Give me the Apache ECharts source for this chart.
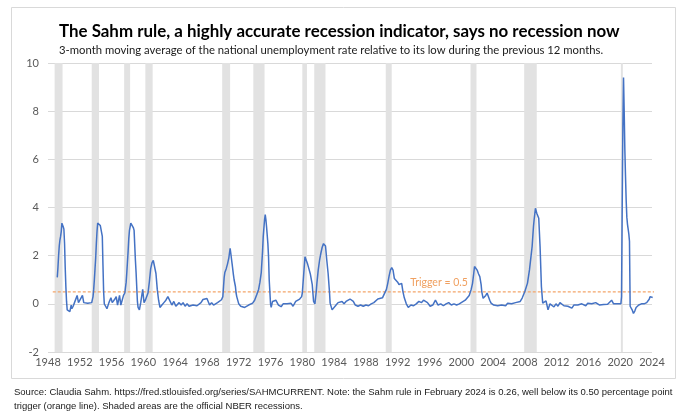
<!DOCTYPE html>
<html>
<head>
<meta charset="utf-8">
<script src="https://cdn.jsdelivr.net/npm/echarts@6/dist/echarts.min.js"></script>
<style>
  html, body { margin: 0; padding: 0; background: #ffffff; }
  #chart { width: 680px; height: 416px; }
</style>
</head>
<body>
<div id="chart"></div>
<script>
// ---- Data ----
const titleText = 'The Sahm rule, a highly accurate recession indicator, says no recession now';
const subtitleText = '3-month moving average of the national unemployment rate relative to its low during the previous 12 months.';
const footerText = 'Source: Claudia Sahm. https://fred.stlouisfed.org/series/SAHMCURRENT. Note: the Sahm rule in February 2024 is 0.26, well below its 0.50 percentage point\ntrigger (orange line). Shaded areas are the official NBER recessions.';

const yearTicks = { min: 1948, max: 2024, step: 4 };
const valueTicks = { min: -2, max: 10, step: 2 };
const triggerValue = 0.5;
const triggerSpan = [1948.6, 2025.0];
const triggerLabel = 'Trigger = 0.5';
const triggerLabelAt = [1997.2, 0.87];

// NBER recessions [start month, end month]
const recessions = [
  ['1948-11','1949-10'],['1953-07','1954-05'],['1957-08','1958-04'],['1960-04','1961-02'],
  ['1969-12','1970-11'],['1973-11','1975-03'],['1980-01','1980-07'],['1981-07','1982-11'],
  ['1990-07','1991-03'],['2001-03','2001-11'],['2007-12','2009-06'],['2020-02','2020-04']
];

// Sahm rule values [month, value]
const sahm1950s = [
  ['1949-03',1.1],['1949-04',1.5],['1949-05',2.0],['1949-06',2.4],['1949-07',2.65],['1949-08',2.8],['1949-09',3.0],
  ['1949-10',3.35],['1949-11',3.3],['1949-12',3.2],['1950-01',3.1],['1950-02',2.5],['1950-03',1.5],['1950-04',0.7],
  ['1950-05',0.1],['1950-06',-0.25],['1950-07',-0.28],['1950-09',-0.3],['1950-10',-0.32],['1950-12',-0.05],['1951-01',-0.2],
  ['1951-03',-0.1],['1951-05',0.05],['1951-07',0.1],['1951-09',0.35],['1951-11',0.05],['1952-01',0.1],['1952-03',0.25],
  ['1952-05',0.35],['1952-07',0.05],['1952-10',0.0],['1953-01',0.02],['1953-04',0.0],['1953-07',0.05],['1953-09',0.3],
  ['1953-10',0.6],['1953-11',1.0],['1953-12',1.45],['1954-01',1.9],['1954-02',2.5],['1954-03',3.0],['1954-04',3.35],
  ['1954-06',3.3],['1954-08',3.25],['1954-10',3.2],['1954-11',2.8],['1954-12',1.6],['1955-01',0.5],['1955-02',0.0],
  ['1955-04',-0.1],['1955-06',-0.2],['1955-09',0.05],['1955-12',0.25],['1956-02',0.05],['1956-04',0.0],['1956-06',0.2],
  ['1956-08',0.3],['1956-10',-0.05],['1957-01',0.35],['1957-03',-0.05],['1957-07',0.35],['1957-09',0.45],['1957-11',0.9],
  ['1957-12',1.3],['1958-01',1.75],['1958-02',2.2],['1958-03',2.72],['1958-04',3.05],['1958-06',3.35],['1958-08',3.3],
  ['1958-10',3.15],['1958-11',3.05],['1959-01',1.8],['1959-02',1.3],['1959-04',0.1],['1959-05',-0.15],['1959-07',-0.25],
  ['1959-09',0.05],['1959-12',0.6]
];
const sahm1960s = [
  ['1960-02',0.05],['1960-04',0.15],['1960-06',0.2],['1960-08',0.45],['1960-10',0.9],['1960-12',1.45],['1961-02',1.7],
  ['1961-04',1.8],['1961-06',1.76],['1961-08',1.26],['1961-10',0.6],['1961-12',0.15],['1962-02',-0.15],['1962-05',-0.05],
  ['1962-08',0.05],['1962-11',0.15],['1963-02',0.3],['1963-05',0.25],['1963-08',-0.05],['1963-11',0.1],['1964-02',-0.1],
  ['1964-04',-0.15],['1964-07',0.05],['1964-10',-0.05],['1965-01',0.05],['1965-04',-0.1],['1965-07',0.0],['1965-10',-0.1],
  ['1966-01',-0.12],['1966-04',-0.05],['1966-07',-0.1],['1966-10',-0.08],['1967-01',0.0],['1967-04',0.05],['1967-07',0.18],
  ['1967-10',0.2],['1968-01',0.22],['1968-03',0.2],['1968-05',-0.05],['1968-08',0.05],['1968-11',-0.05],['1969-02',0.0],
  ['1969-05',0.05],['1969-08',0.1],['1969-11',0.17]
];
const sahm1970s = [
  ['1970-01',0.3],['1970-02',0.7],['1970-03',1.1],['1970-04',1.3],['1970-06',1.45],['1970-08',1.65],['1970-10',1.9],
  ['1970-12',2.3],['1971-01',2.1],['1971-03',1.66],['1971-05',1.2],['1971-06',1.0],['1971-08',0.72],['1971-09',0.45],
  ['1971-10',0.3],['1972-01',0.0],['1972-04',-0.1],['1972-07',-0.05],['1972-10',-0.15],['1973-01',-0.18],['1973-04',-0.05],
  ['1973-07',0.0],['1973-10',0.03],['1974-01',0.15],['1974-04',0.37],['1974-07',0.6],['1974-09',0.9],['1974-11',1.3],
  ['1975-01',2.2],['1975-02',2.8],['1975-04',3.5],['1975-05',3.7],['1975-06',3.5],['1975-07',3.2],['1975-09',2.5],
  ['1975-10',1.95],['1975-11',1.0],['1976-01',0.0],['1976-02',-0.15],['1976-04',0.1],['1976-07',0.18],['1976-09',0.15],
  ['1977-01',-0.05],['1977-05',-0.12],['1977-08',0.0],['1977-11',-0.08],['1978-02',0.0],['1978-05',-0.05],['1978-08',0.02],
  ['1978-11',-0.1],['1979-03',0.1],['1979-06',0.05],['1979-09',0.2],['1979-12',0.3]
];
const sahm1980s = [
  ['1980-01',0.45],['1980-03',1.2],['1980-05',1.95],['1980-06',1.9],['1980-09',1.65],['1980-11',1.45],['1981-01',1.25],
  ['1981-04',0.8],['1981-06',0.1],['1981-08',0.0],['1981-10',0.5],['1981-11',0.85],['1982-01',1.4],['1982-03',1.8],
  ['1982-05',2.1],['1982-07',2.35],['1982-09',2.5],['1982-11',2.55],['1982-12',2.4],['1983-02',1.8],['1983-04',1.25],
  ['1983-06',0.5],['1983-07',0.03],['1983-10',-0.25],['1984-01',-0.2],['1984-04',-0.05],['1984-07',0.05],['1984-10',0.0],
  ['1985-01',0.1],['1985-04',0.0],['1985-07',0.1],['1985-10',0.05],['1986-01',0.2],['1986-03',0.28],['1986-06',0.1],
  ['1986-09',-0.05],['1987-01',-0.1],['1987-05',-0.05],['1987-09',-0.1],['1988-01',-0.05],['1988-05',-0.08],['1988-09',0.0],
  ['1989-01',0.05],['1989-04',0.0],['1989-07',0.2],['1989-10',0.15]
];
const sahm1990s = [
  ['1990-02',0.25],['1990-05',0.3],['1990-08',0.6],['1990-10',0.85],['1990-12',1.15],['1991-02',1.4],['1991-04',1.5],
  ['1991-06',1.4],['1991-08',1.05],['1991-10',1.0],['1992-01',0.9],['1992-03',0.8],['1992-05',0.75],['1992-07',0.85],
  ['1992-09',0.5],['1992-11',0.25],['1993-02',0.0],['1993-05',-0.15],['1993-09',-0.05],['1994-01',-0.08],['1994-05',0.0],
  ['1994-09',0.1],['1995-01',0.05],['1995-04',0.15],['1995-07',0.2],['1995-10',0.05],['1996-02',-0.1],['1996-06',-0.05],
  ['1996-10',0.15],['1997-02',-0.05],['1997-06',0.0],['1997-10',-0.08],['1998-02',0.0],['1998-06',0.05],['1998-10',-0.05],
  ['1999-02',0.0],['1999-06',-0.05],['1999-10',0.0]
];
const sahm2000s = [
  ['2000-01',0.03],['2000-07',0.15],['2001-01',0.35],['2001-04',0.6],['2001-06',0.85],['2001-08',1.3],['2001-09',1.55],
  ['2001-11',1.62],['2002-01',1.4],['2002-03',1.25],['2002-05',1.13],['2002-07',0.8],['2002-08',0.5],['2002-10',0.23],
  ['2002-12',0.17],['2003-02',0.35],['2003-04',0.45],['2003-06',0.38],['2003-08',0.15],['2003-10',0.03],['2004-02',-0.05],
  ['2004-05',0.0],['2004-08',-0.08],['2004-11',-0.03],['2005-02',-0.05],['2005-05',0.0],['2005-08',-0.08],['2005-11',0.02],
  ['2006-02',-0.05],['2006-05',0.0],['2006-08',-0.05],['2006-11',0.05],['2007-02',0.02],['2007-06',0.1],['2007-09',0.24],
  ['2008-01',0.51],['2008-05',0.86],['2008-08',1.41],['2008-10',1.9],['2008-12',2.38],['2009-02',3.2],['2009-03',3.49],
  ['2009-05',3.97],['2009-07',3.76],['2009-10',3.55],['2009-12',2.38]
];
const sahm2010s = [
  ['2010-02',0.72],['2010-04',0.03],['2010-06',0.0],['2010-09',0.12],['2010-12',-0.25],['2011-03',0.0],['2011-06',-0.05],
  ['2011-09',-0.13],['2011-12',0.0],['2012-03',-0.1],['2012-06',0.05],['2012-09',0.1],['2012-12',-0.08],['2013-03',-0.02],
  ['2013-06',-0.1],['2013-09',-0.05],['2013-12',-0.18],['2014-03',-0.05],['2014-06',-0.12],['2014-09',-0.05],['2014-12',-0.1],
  ['2015-03',0.0],['2015-06',0.03],['2015-09',-0.08],['2015-12',0.02],['2016-03',0.1],['2016-06',0.0],['2016-09',-0.08],
  ['2016-12',0.05],['2017-03',0.0],['2017-06',-0.05],['2017-09',0.02],['2017-12',-0.03],['2018-03',0.0],['2018-06',-0.02],
  ['2018-09',0.05],['2018-12',0.15],['2019-03',0.0],['2019-06',0.02],['2019-09',0.0],['2019-12',0.05]
];
const sahm2020s = [
  ['2020-02',0.0],['2020-03',0.3],['2020-04',4.0],['2020-05',7.3],['2020-06',9.4],['2020-07',8.0],['2020-08',6.4],
  ['2020-09',5.3],['2020-10',4.3],['2020-11',3.6],['2020-12',3.3],['2021-01',3.1],['2021-02',2.9],['2021-03',2.6],
  ['2021-04',-0.1],['2021-05',-0.15],['2021-06',-0.1],['2021-07',-0.25],['2021-08',-0.2],['2021-09',-0.4],['2021-10',-0.33],
  ['2021-11',-0.3],['2021-12',-0.25],['2022-01',-0.15],['2022-03',-0.1],['2022-05',-0.05],['2022-07',-0.02],['2022-09',0.0],
  ['2022-11',0.02],['2023-01',0.0],['2023-03',0.03],['2023-05',0.05],['2023-07',0.1],['2023-09',0.2],['2023-10',0.3],
  ['2023-11',0.28],['2023-12',0.25],['2024-01',0.22],['2024-02',0.26]
];

// ---- Build ----
function ym(s) { const p = s.split('-').map(Number); return p[0] + (p[1] - 1) / 12; }
const sahmAll = [].concat(sahm1950s, sahm1960s, sahm1970s, sahm1980s, sahm1990s, sahm2000s, sahm2010s, sahm2020s)
  .map(d => [ym(d[0]), d[1]]);
const recessionAreas = recessions.map(r => [{ xAxis: ym(r[0]) }, { xAxis: ym(r[1]) + 1 / 12 }]);

const chart = echarts.init(document.getElementById('chart'), null, { renderer: 'canvas' });
const axisFont = { color: '#595959', fontSize: 11, fontFamily: 'Lato, sans-serif' };

chart.setOption({
  animation: false,
  backgroundColor: '#ffffff',
  title: {
    text: titleText,
    subtext: subtitleText,
    left: 54, top: 18,
    itemGap: 5,
    textStyle: { fontFamily: 'Lato, sans-serif', fontWeight: 'bold', fontSize: 16.9, color: '#000000' },
    subtextStyle: { fontFamily: 'Lato, sans-serif', fontSize: 11.3, color: '#1a1a1a' }
  },
  graphic: [
    { type: 'rect', shape: { x: 11.5, y: 7.5, width: 664, height: 371 }, style: { fill: 'none', stroke: '#d9d9d9', lineWidth: 1 }, silent: true },
    { type: 'text', left: 14, top: 386, style: { text: footerText, font: '9.5px "Liberation Sans", Arial, sans-serif', fill: '#1a1a1a', lineHeight: 13.5 } }
  ],
  grid: { left: 48, right: 28, top: 63, bottom: 64 },
  xAxis: {
    type: 'value', min: yearTicks.min, max: yearTicks.max, interval: yearTicks.step,
    axisLine: { show: false }, axisTick: { show: false }, splitLine: { show: false },
    axisLabel: Object.assign({ margin: 5, formatter: v => String(Math.round(v)) }, axisFont)
  },
  yAxis: {
    type: 'value', min: valueTicks.min, max: valueTicks.max, interval: valueTicks.step,
    axisLine: { show: false }, axisTick: { show: false },
    splitLine: { lineStyle: { color: '#d9d9d9', width: 1 } },
    axisLabel: Object.assign({ margin: 9 }, axisFont)
  },
  series: [
    {
      name: 'recessions', type: 'line', data: [], z: 1, silent: true,
      markArea: { silent: true, itemStyle: { color: '#e2e2e2' }, data: recessionAreas }
    },
    {
      name: 'trigger', type: 'line', z: 2, clip: false, symbol: 'none', silent: true,
      data: [[triggerSpan[0], triggerValue], [triggerSpan[1], triggerValue]],
      lineStyle: { color: '#f4a56a', width: 1.2, type: [3, 2] },
      markPoint: {
        symbol: 'rect', symbolSize: 0, silent: true,
        label: { show: true, formatter: triggerLabel, color: '#f0a060', fontSize: 10.5, fontFamily: 'Lato, sans-serif', position: 'inside' },
        data: [{ coord: triggerLabelAt }]
      }
    },
    {
      name: 'Sahm rule', type: 'line', z: 3, clip: false, symbol: 'none', silent: true,
      data: sahmAll,
      lineStyle: { color: '#4472c4', width: 1.5 }
    }
  ]
});
</script>
</body>
</html>
